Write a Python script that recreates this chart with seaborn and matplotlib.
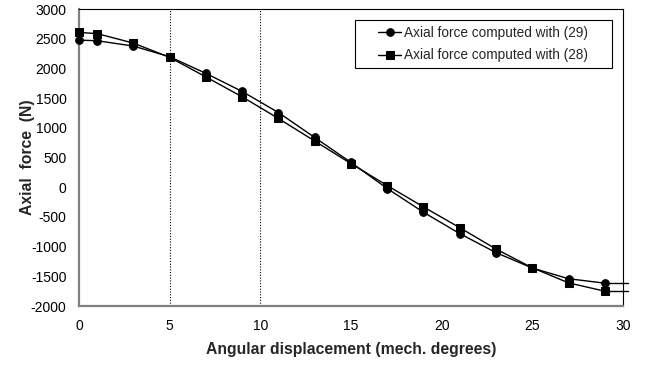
import matplotlib
matplotlib.use("Agg")
import matplotlib.pyplot as plt
from matplotlib.patches import Rectangle
import seaborn as sns
import pandas as pd

# Angular positions (mechanical degrees) at which the force was evaluated
angle_deg = [0, 1, 3, 5, 7, 9, 11, 13, 15, 17, 19, 21, 23, 25, 27, 29]

# Axial force (N) from the two formulations
force_eq29 = [2480, 2470, 2380, 2200, 1920, 1615, 1260, 840, 420, -20,
              -420, -780, -1100, -1360, -1540, -1615]
force_eq28 = [2610, 2590, 2430, 2190, 1860, 1525, 1160, 780, 400, 30,
              -330, -680, -1040, -1355, -1610, -1750]

label_eq29 = "Axial force computed with (29)"
label_eq28 = "Axial force computed with (28)"

x_ticks = [0, 5, 10, 15, 20, 25, 30]
y_ticks = [-2000, -1500, -1000, -500, 0, 500, 1000, 1500, 2000, 2500, 3000]
marker_lines = [5, 10]

sns.set_theme(style="white")
plt.rcParams["font.family"] = ["Liberation Sans", "DejaVu Sans"]
plt.rcParams["axes.unicode_minus"] = False

df = pd.concat([
    pd.DataFrame({"angle": angle_deg, "force": force_eq29, "series": label_eq29}),
    pd.DataFrame({"angle": angle_deg, "force": force_eq28, "series": label_eq28}),
])

fig = plt.figure(figsize=(6.55, 3.65), dpi=100)
ax = fig.add_axes([0.1206, 0.1616, 0.8304, 0.813])

sns.lineplot(data=df, x="angle", y="force", hue="series", style="series",
             palette=["black", "black"], markers={label_eq29: "o", label_eq28: "s"},
             dashes=False, markersize=5.5, linewidth=1.0, markeredgecolor="black",
             sort=False, ax=ax, clip_on=False, zorder=3)

# Curves run on flat past the last computed point
x_last = angle_deg[-1]
for vals in (force_eq29, force_eq28):
    ax.plot([x_last, 30.3], [vals[-1], vals[-1]], color="black", lw=1.0, clip_on=False)

for xv in marker_lines:
    ax.axvline(xv, color="black", lw=0.8, ls=(0, (1, 1.5)), zorder=1)

ax.set_xlim(0, 30)
ax.set_ylim(-2000, 3000)
ax.set_xticks(x_ticks)
ax.set_yticks(y_ticks)
ax.tick_params(axis="both", length=0, labelsize=10, colors="black")
ax.tick_params(axis="y", pad=9)
ax.tick_params(axis="x", pad=9)

ax.set_xlabel("Angular displacement (mech. degrees)", fontsize=11.3,
              fontweight="bold", labelpad=7)
ax.set_ylabel("Axial  force  (N)", fontsize=11.3, fontweight="bold")
ax.yaxis.set_label_coords(-0.081, 0.5)

for side in ("left", "bottom"):
    ax.spines[side].set_color("#808080")
    ax.spines[side].set_linewidth(1.6)
for side in ("top", "right"):
    ax.spines[side].set_color("black")
    ax.spines[side].set_linewidth(0.8)

# Legend box with its entries centred inside
box_x0, box_y0, box_x1, box_y1 = 0.507, 0.801, 0.980, 0.963
ax.add_patch(Rectangle((box_x0, box_y0), box_x1 - box_x0, box_y1 - box_y0,
                       transform=ax.transAxes, facecolor="white",
                       edgecolor="black", linewidth=0.8, zorder=4))
leg = ax.legend(loc="center", bbox_to_anchor=((box_x0 + box_x1) / 2, (box_y0 + box_y1) / 2),
                fontsize=9.8, frameon=False, handlelength=1.65, handletextpad=0.25,
                borderpad=0, labelspacing=0.6, borderaxespad=0)
leg.set_zorder(5)

fig.savefig("out.png", dpi=100)
